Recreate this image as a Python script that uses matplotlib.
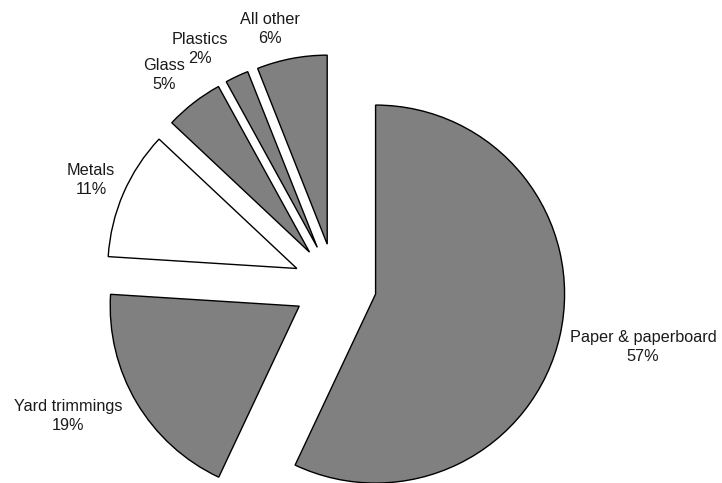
import matplotlib
matplotlib.use("Agg")
import matplotlib.pyplot as plt

plt.rcParams['font.family'] = ['Liberation Sans', 'DejaVu Sans']

# ---------------------------- data ----------------------------#
categories = ["Paper & paperboard", "Yard trimmings", "Metals", "Glass", "Plastics", "All other"]
shares = [57, 19, 11, 5, 2, 6]
colors = ["#808080", "#808080", "#ffffff", "#808080", "#808080", "#808080"]

# label centres (data units, pie centre = 0,0, radius = 1)
label_pos = [(1.630, -0.328), (-1.413, -0.693), (-1.291, 0.556),
             (-0.905, 1.111), (-0.714, 1.249), (-0.344, 1.354)]

# ---------------------------- plot ----------------------------#
fig = plt.figure(figsize=(7.22, 4.83), dpi=100)
ax = fig.add_axes([0, 0, 1, 1])

wedges, texts = ax.pie(shares, colors=colors, startangle=90, counterclock=False,
                       explode=[0.22] * len(shares), radius=1.0,
                       wedgeprops=dict(edgecolor="black", linewidth=1.0))

for name, val, (x, y) in zip(categories, shares, label_pos):
    ax.text(x, y, "%s\n%d%%" % (name, val), ha="center", va="center",
            fontsize=11.7, color="#1a1a1a", linespacing=1.35)

ax.set_xlim(-335 / 189, 387 / 189)
ax.set_ylim(-198 / 189, 285 / 189)
ax.axis("off")

fig.savefig("out.png", dpi=100)
